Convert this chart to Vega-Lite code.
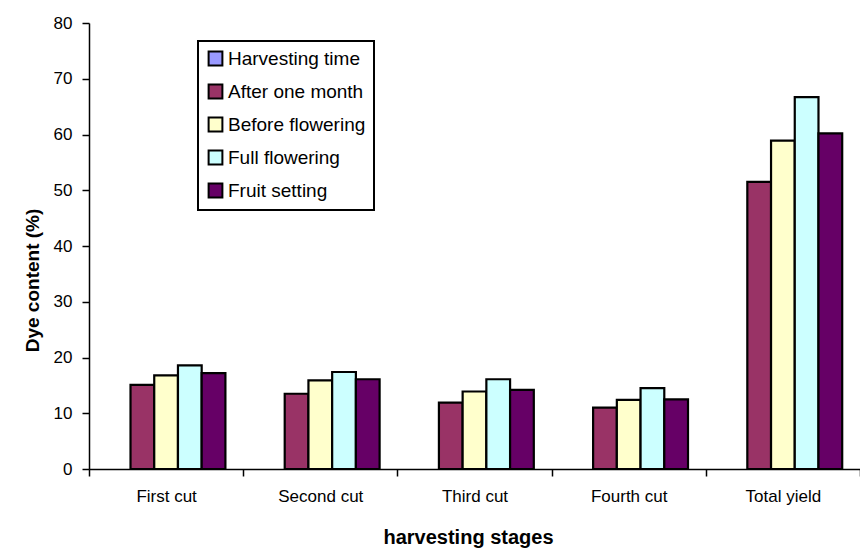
{
  "$schema": "https://vega.github.io/schema/vega-lite/v6.json",
  "width": 771,
  "height": 446,
  "autosize": {"type": "none"},
  "padding": {"left": 89, "top": 23, "right": 0, "bottom": 86},
  "background": "white",
  "config": {
    "view": {"stroke": null},
    "font": "Liberation Sans",
    "legend": {"strokeWidth": 2}
  },
  "data": {
    "values": [
      {"stage": "First cut", "series": "After one month", "value": 15.1},
      {"stage": "First cut", "series": "Before flowering", "value": 16.8},
      {"stage": "First cut", "series": "Full flowering", "value": 18.6},
      {"stage": "First cut", "series": "Fruit setting", "value": 17.2},
      {"stage": "Second cut", "series": "After one month", "value": 13.5},
      {"stage": "Second cut", "series": "Before flowering", "value": 15.9},
      {"stage": "Second cut", "series": "Full flowering", "value": 17.4},
      {"stage": "Second cut", "series": "Fruit setting", "value": 16.1},
      {"stage": "Third cut", "series": "After one month", "value": 11.9},
      {"stage": "Third cut", "series": "Before flowering", "value": 13.9},
      {"stage": "Third cut", "series": "Full flowering", "value": 16.1},
      {"stage": "Third cut", "series": "Fruit setting", "value": 14.2},
      {"stage": "Fourth cut", "series": "After one month", "value": 11.0},
      {"stage": "Fourth cut", "series": "Before flowering", "value": 12.4},
      {"stage": "Fourth cut", "series": "Full flowering", "value": 14.5},
      {"stage": "Fourth cut", "series": "Fruit setting", "value": 12.5},
      {"stage": "Total yield", "series": "After one month", "value": 51.5},
      {"stage": "Total yield", "series": "Before flowering", "value": 58.9},
      {"stage": "Total yield", "series": "Full flowering", "value": 66.7},
      {"stage": "Total yield", "series": "Fruit setting", "value": 60.2}
    ]
  },
  "mark": {"type": "bar", "stroke": "black", "strokeWidth": 2.2},
  "encoding": {
    "x": {
      "field": "stage",
      "type": "nominal",
      "sort": ["First cut", "Second cut", "Third cut", "Fourth cut", "Total yield"],
      "scale": {"paddingInner": 0, "paddingOuter": 0},
      "axis": {
        "title": "harvesting stages",
        "titleFontSize": 20,
        "titleFontWeight": "bold",
        "titleColor": "black",
        "titlePadding": 23,
        "titleX": 379,
        "labelAngle": 0,
        "labelFontSize": 17,
        "labelColor": "black",
        "labelPadding": 12,
        "tickBand": "extent",
        "tickSize": 7,
        "tickColor": "black",
        "tickWidth": 1.5,
        "domainColor": "black",
        "domainWidth": 1.5,
        "grid": false
      }
    },
    "xOffset": {
      "field": "series",
      "type": "nominal",
      "scale": {
        "domain": ["Harvesting time", "After one month", "Before flowering", "Full flowering", "Fruit setting"],
        "paddingInner": 0,
        "paddingOuter": 0.75
      }
    },
    "y": {
      "field": "value",
      "type": "quantitative",
      "scale": {"domain": [0, 80], "nice": false},
      "axis": {
        "title": "Dye content (%)",
        "titleFontSize": 19,
        "titleFontWeight": "bold",
        "titleColor": "black",
        "titlePadding": 11,
        "titleY": 257,
        "values": [0, 10, 20, 30, 40, 50, 60, 70, 80],
        "labelFontSize": 17,
        "labelColor": "black",
        "labelPadding": 10,
        "tickSize": 7,
        "tickColor": "black",
        "tickWidth": 1.5,
        "domainColor": "black",
        "domainWidth": 1.5,
        "grid": false
      }
    },
    "color": {
      "field": "series",
      "type": "nominal",
      "scale": {
        "domain": ["Harvesting time", "After one month", "Before flowering", "Full flowering", "Fruit setting"],
        "range": ["#9999FF", "#993366", "#FFFFCC", "#CCFFFF", "#660066"]
      },
      "legend": {
        "title": null,
        "orient": "none",
        "legendX": 109,
        "legendY": 18,
        "fillColor": "white",
        "strokeColor": "black",
        "padding": 8,
        "symbolType": "square",
        "symbolSize": 190,
        "symbolStrokeColor": "black",
        "symbolStrokeWidth": 2,
        "symbolOpacity": 1,
        "labelFontSize": 19,
        "labelColor": "black",
        "labelOffset": 3,
        "rowPadding": 10
      }
    }
  }
}
